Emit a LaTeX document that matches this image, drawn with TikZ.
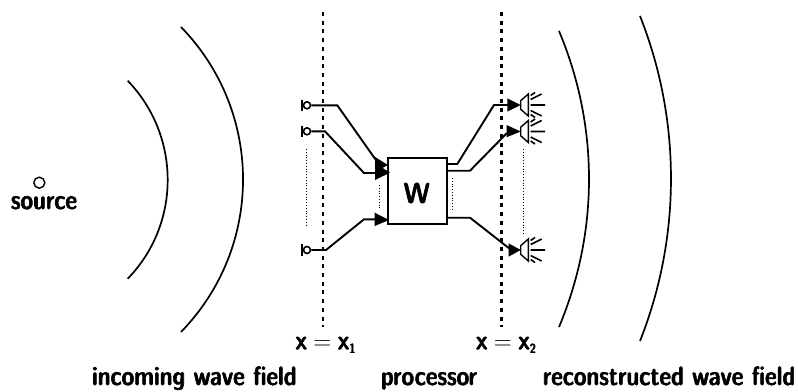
\documentclass[tikz,border=0pt]{standalone}
\font\lblf="[lmsansdemicond10-regular]:embolden=2.2" at 26.4pt
\font\lblsub="[lmsansdemicond10-regular]:embolden=2.2" at 13pt
\font\lblW="[lmsansdemicond10-regular]:embolden=2.2" at 29pt
\newcommand{\lblfont}{\fontsize{25}{30}\selectfont\lblf}
\newcommand{\subnum}[1]{\raisebox{-3.5pt}{\lblsub #1}}
\begin{document}
\begin{tikzpicture}[x=1pt,y=-1pt,
  lbl/.style={inner sep=0pt,font=\lblfont,anchor=base},
  wave/.style={line width=1.7pt},
  wire/.style={line width=1.9pt},
  dotline/.style={line width=0.8pt,dotted},
  dashline/.style={line width=2.3pt,dash pattern=on 4pt off 4.7pt},
  tip/.style={fill=black,draw=none}]
\useasboundingbox (0,0) rectangle (798,391);
\node[circle,draw,line width=1.4pt,inner sep=0pt,minimum size=11pt] (src) at (39.3,182.7) {};
\node[lbl] (srclbl) at (44,209) {source};
\draw[wave] (127.7,80.7) .. controls (181,136) and (181,224) .. (127.7,278.7);
\draw[wave] (181,27) .. controls (263.7,112) and (263.7,247) .. (181,332);
\draw[wave] (559,31) .. controls (599,126) and (599,232) .. (559,327);
\draw[wave] (640,16) .. controls (681.3,120) and (681.3,237) .. (640,341);
\coordinate (d1a) at (323.3,12); \coordinate (d1b) at (323.3,327);
\coordinate (d2a) at (501.5,12); \coordinate (d2b) at (501.5,327);
\draw[dashline] (d1a) -- (d1b);
\draw[dashline] (d2a) -- (d2b);
\node[draw,line width=2pt,minimum width=59pt,minimum height=66.5pt,inner sep=0pt] (W) at (417.5,191) {};
\node[inner sep=0pt,font=\lblW] (Wt) at (416.7,193) {W};
\foreach \n/\y in {m1/105.3,m2/131.3,m3/250}{
  \node[circle,draw,line width=1.6pt,inner sep=0pt,minimum size=7pt] (\n) at (307,\y) {};
  \draw[line width=1.9pt] (302.3,\y-5.7) -- (302.3,\y+5.7);
}
\coordinate (w1) at (337.3,105.3); \coordinate (w1e) at (378,163);
\coordinate (w2) at (325,131.3); \coordinate (w2a) at (364,173);
\coordinate (w3) at (326,250); \coordinate (w3a) at (364,219.3);
\draw[wire] (m1) -- (w1) -- (w1e);
\draw[wire] (m2) -- (w2) -- (w2a) -- (384,173);
\draw[wire] (m3) -- (w3) -- (w3a) -- (384,219.3);
\fill[tip] (375,157) -- (388,165) -- (375,172) -- cycle;
\fill[tip] (375,163) -- (390,172.7) -- (375,180) -- cycle;
\fill[tip] (374.7,212.7) -- (389,220) -- (374.7,226) -- cycle;
\draw[dotline] (306,149) -- (306,225);
\draw[dotline] (379,185) -- (379,208);
\draw[dotline] (452.3,178) -- (452.3,210.7);
\draw[dotline] (523.3,149) -- (523.3,235);
\foreach \n/\y/\a/\b/\c in {s1/105/507.3/98.3/111.7,s2/131.5/506.5/125/137.3,s3/250/508.5/243.3/256.7}{
  \coordinate (\n) at (520.7,\y);
  \fill[tip] (\a,\b) -- (\n) -- (\a,\c) -- cycle;
  \draw[line width=1.4pt,fill=white] (520.7,\y-4.3) -- (528.3,\y-11) -- (528.3,\y+11) -- (520.7,\y+4.3) -- cycle;
  \draw[line width=1.6pt] (530.7,\y) -- (545,\y) (530.7,\y-5.5) -- (541.7,\y-11) (530.7,\y+5.5) -- (541.7,\y+11) (530.7,\y-9.5) -- (535,\y-12.5) (530.7,\y+9.5) -- (535,\y+12.5);
}
\draw[wire] (W.east |- 0,164) -- (457.3,164) -- (494,105) -- (508,105);
\draw[wire] (W.east |- 0,170.7) -- (470,170.7) -- (507,133);
\draw[wire] (W.east |- 0,217.7) -- (470,217.7) -- (510,249);
\node[lbl] (xa) at (325.5,349.3) {x\hspace{6.5pt}$=$\hspace{6.5pt}x\subnum{1}};
\node[lbl] (xb) at (506,349.3) {x\hspace{6.5pt}$=$\hspace{6.5pt}x\subnum{2}};
\node[lbl] (inc) at (194.3,385) {incoming wave field};
\node[lbl] (proc) at (429,385) {processor};
\node[lbl] (rec) at (669,385) {reconstructed wave field};
\end{tikzpicture}
\end{document}
